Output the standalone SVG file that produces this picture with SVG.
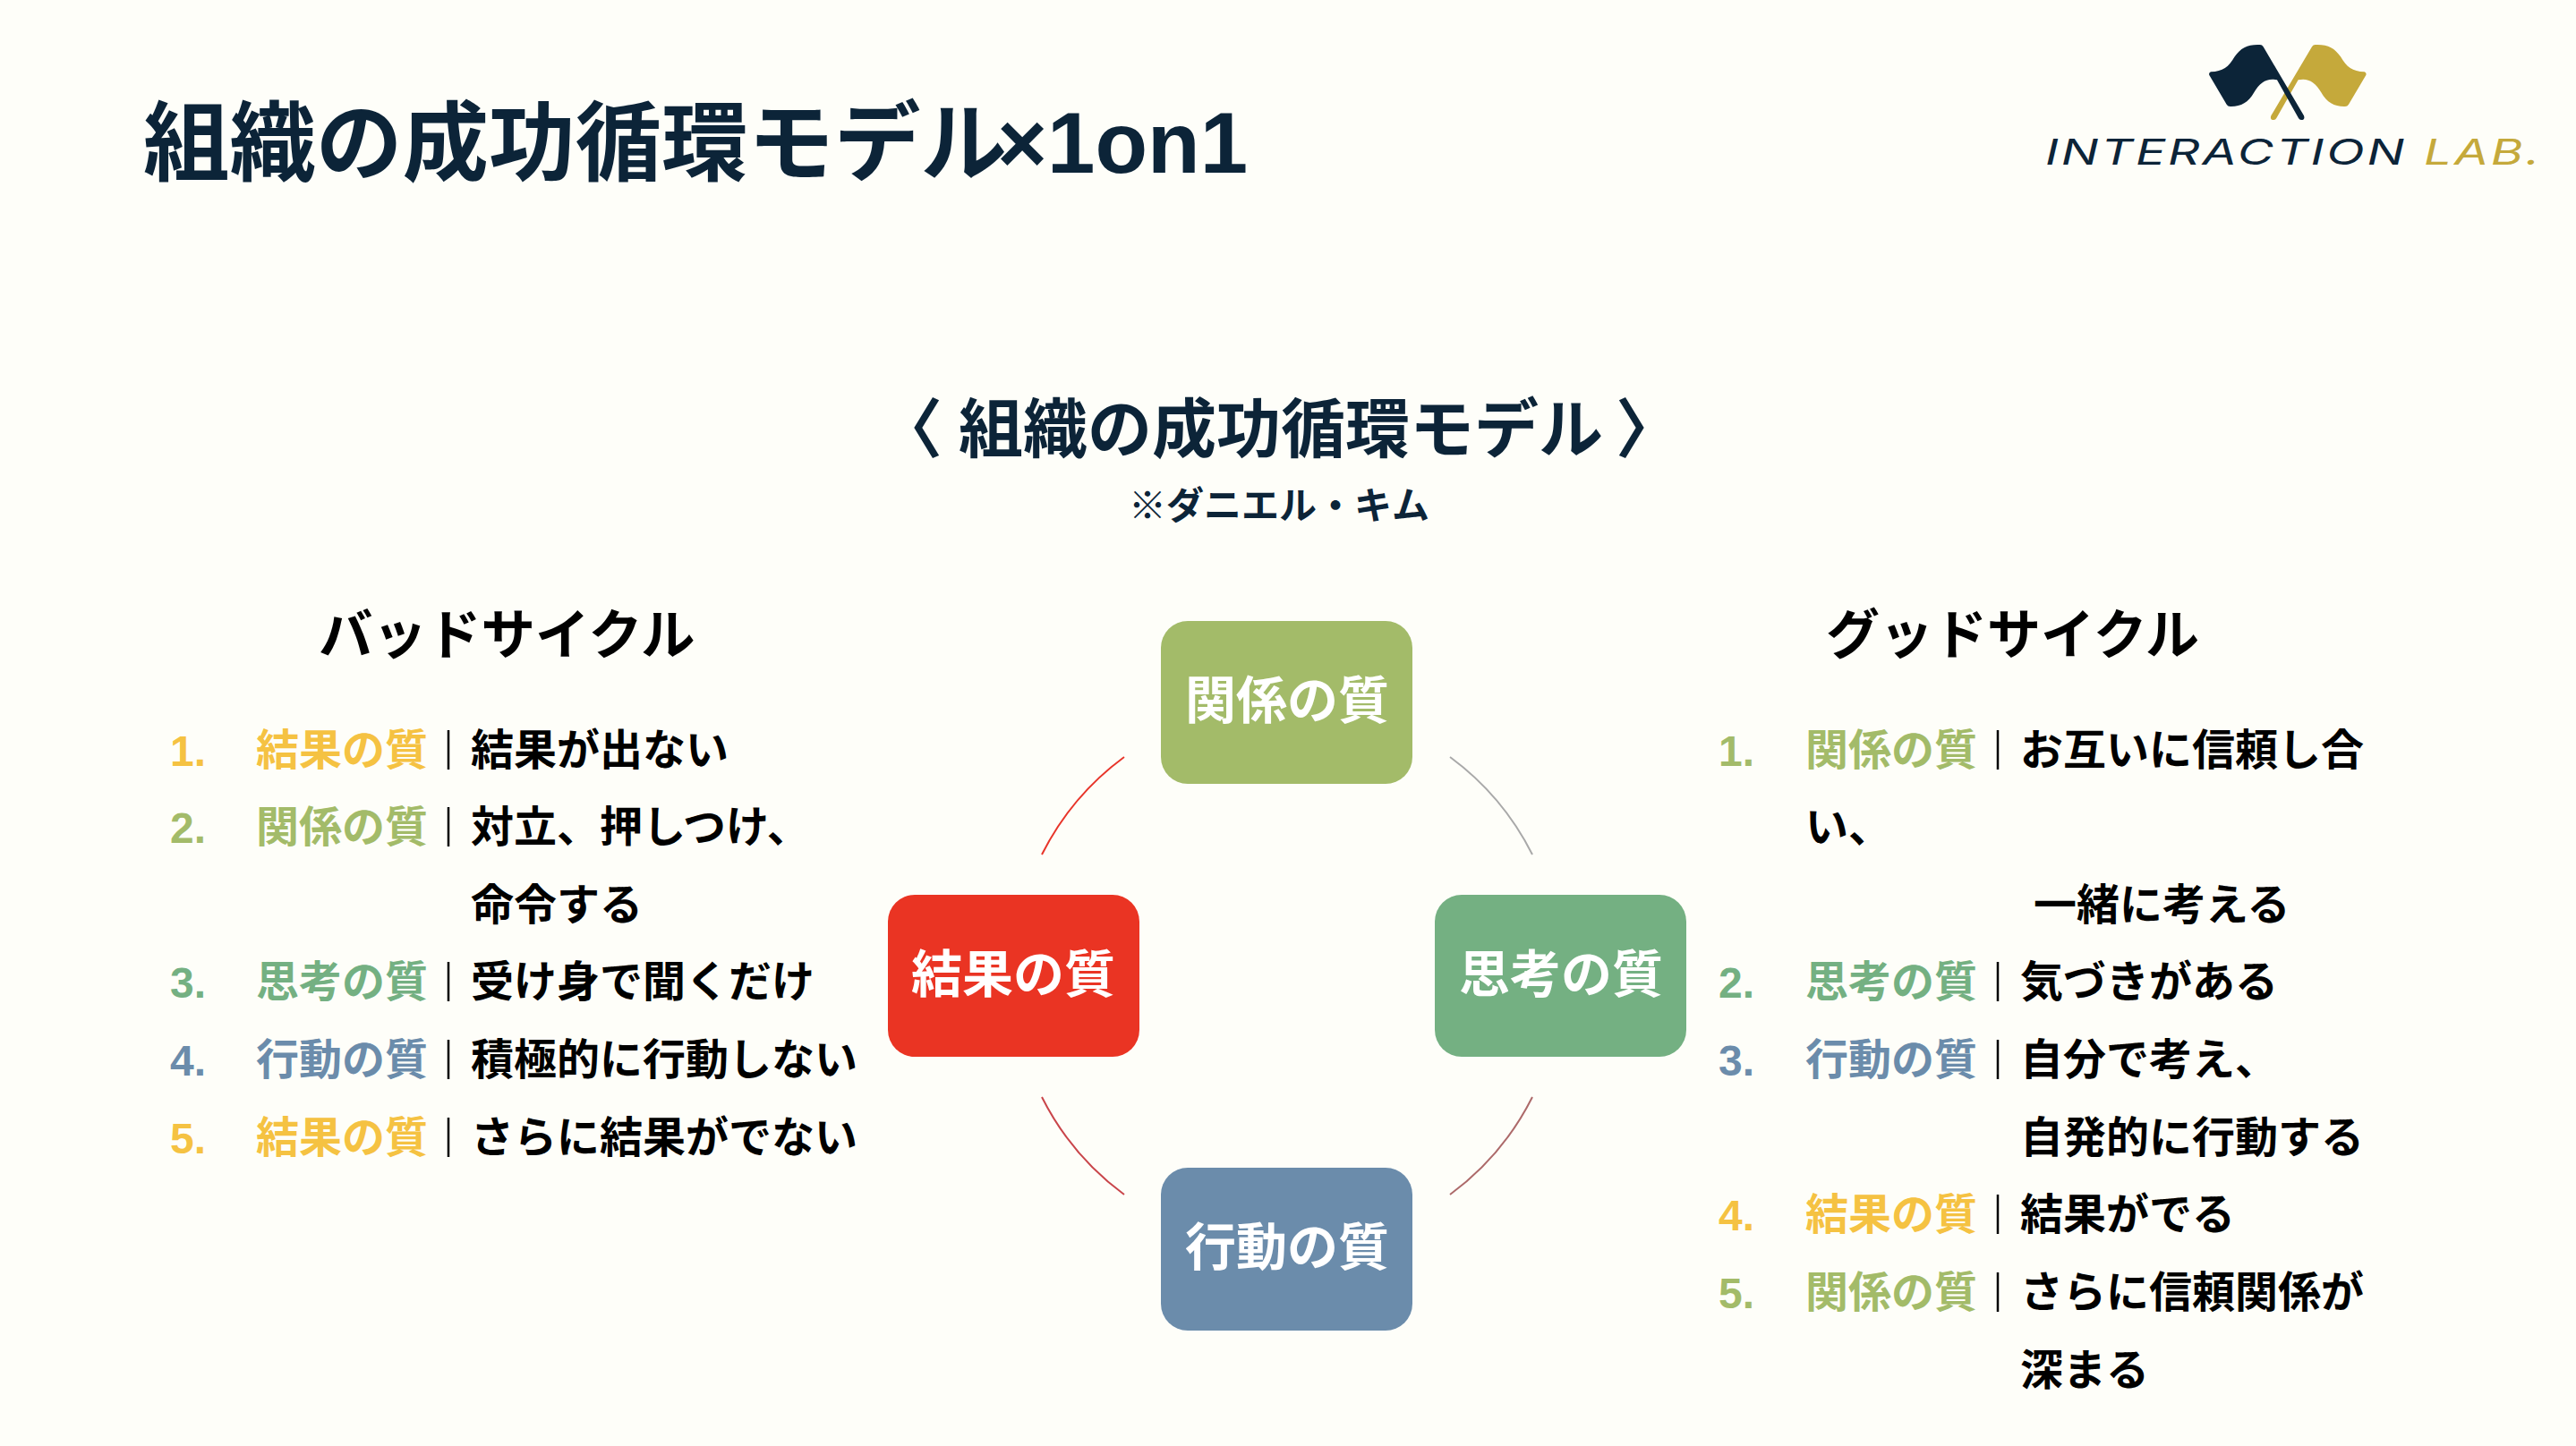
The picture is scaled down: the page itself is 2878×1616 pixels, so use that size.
<svg xmlns="http://www.w3.org/2000/svg" width="2878" height="1616" viewBox="0 0 2878 1616">
<style>
text{font-family:"Noto Sans CJK JP","Noto Sans",sans-serif;font-weight:700}
.h{font-size:60px;fill:#000}
.t{font-size:48px;fill:#000}
.q{font-size:48px}
.n{font-size:48px;font-family:"Liberation Sans",sans-serif;font-weight:700}
.nl{font-size:57px;fill:#fff;text-anchor:middle}
.y{fill:#f5c242}.g{fill:#a3bb69}.e{fill:#74b082}.b{fill:#6b8cab}
.s{stroke:#000;stroke-width:2.5}
.a{fill:none;stroke-width:2}
.lg{font-family:"Inter","Liberation Sans",sans-serif;font-weight:400;font-style:italic;font-size:40px;letter-spacing:2px}
.d{fill:#0c2438}
</style>
<rect width="2878" height="1616" fill="#fefef9"/>
<text class="d" x="160" y="194" font-size="96.5">組織の成功循環モデル</text>
<text class="d" x="1114" y="193" font-size="96" style="font-family:'Liberation Sans',sans-serif">×1on1</text>
<g id="logo" transform="translate(2440,20) scale(.3333)">
<path fill="#c5a93b" d="M605 181C565 180 545 165 525 130C505 100 480 88 440 90Q433 90 429 97L292 328Q287 342 301 342Q307 342 310 336L383 208C415 200 440 215 460 250C480 285 505 298 540 297Q548 297 552 290L610 192Q613 184 605 181Z"/>
<path fill="#0c2438" d="M90 181C130 180 150 165 170 130C190 100 215 88 255 90Q262 90 266 97L402 328Q407 342 393 342Q387 342 384 336L312 208C280 200 255 215 235 250C215 285 190 298 155 297Q147 297 143 290L85 192Q82 184 90 181Z"/>
</g>
<text class="lg" x="2285" y="184" fill="#0c2438" textLength="404" lengthAdjust="spacingAndGlyphs">INTERACTION</text>
<text class="lg" x="2708" y="184" fill="#c5a93b" textLength="132" lengthAdjust="spacingAndGlyphs">LAB.</text>
<text class="d" x="981" y="505" font-size="72">〈</text>
<text class="d" x="1071" y="505" font-size="72">組織の成功循環モデル</text>
<text class="d" x="1805" y="505" font-size="72">〉</text>
<text class="d" x="1429" y="580" font-size="42" text-anchor="middle">※ダニエル・キム</text>
<g id="connectors">
<path class="a" stroke="#a9a9a9" d="M1620 846A306 306 0 0 1 1712 955"/>
<path class="a" stroke="#ad6a6a" d="M1712 1226A306 306 0 0 1 1620 1335"/>
<path class="a" stroke="#c9454a" d="M1256 1335A306 306 0 0 1 1164 1226"/>
<path class="a" stroke="#e8352a" d="M1164 955A306 306 0 0 1 1256 846"/>
</g>
<g id="node-relation"><rect x="1297" y="694" width="281" height="182" rx="30" fill="#a3bb69"/><text class="nl" x="1438" y="803">関係の質</text></g>
<g id="node-thinking"><rect x="1603" y="1000" width="281" height="181" rx="30" fill="#74b082"/><text class="nl" x="1744" y="1109">思考の質</text></g>
<g id="node-action"><rect x="1297" y="1305" width="281" height="182" rx="30" fill="#6b8cab"/><text class="nl" x="1438" y="1414">行動の質</text></g>
<g id="node-result"><rect x="992" y="1000" width="281" height="181" rx="30" fill="#ea3423"/><text class="nl" x="1132" y="1109">結果の質</text></g>
<g id="bad">
<text class="h" x="356" y="731" style="font-size:60.5px">バッドサイクル</text>
<text class="n y" x="190" y="856">1.</text><text class="q y" x="286" y="855">結果の質</text><line class="s" x1="501" y1="816" x2="501" y2="860"/><text class="t" x="526" y="855">結果が出ない</text>
<text class="n g" x="190" y="942">2.</text><text class="q g" x="286" y="941">関係の質</text><line class="s" x1="501" y1="902" x2="501" y2="946"/><text class="t" x="526" y="941">対立、押しつけ、</text>
<text class="t" x="526" y="1028">命令する</text>
<text class="n e" x="190" y="1115">3.</text><text class="q e" x="286" y="1114">思考の質</text><line class="s" x1="501" y1="1075" x2="501" y2="1119"/><text class="t" x="526" y="1114">受け身で聞くだけ</text>
<text class="n b" x="190" y="1202">4.</text><text class="q b" x="286" y="1201">行動の質</text><line class="s" x1="501" y1="1162" x2="501" y2="1206"/><text class="t" x="526" y="1201">積極的に行動しない</text>
<text class="n y" x="190" y="1289">5.</text><text class="q y" x="286" y="1288">結果の質</text><line class="s" x1="501" y1="1249" x2="501" y2="1293"/><text class="t" x="526" y="1288">さらに結果がでない</text>
</g>
<g id="good">
<text class="h" x="2040" y="731">グッドサイクル</text>
<text class="n g" x="1920" y="856">1.</text><text class="q g" x="2017" y="855">関係の質</text><line class="s" x1="2232" y1="816" x2="2232" y2="860"/><text class="t" x="2257" y="855">お互いに信頼し合</text>
<text class="t" x="2017" y="941">い、</text>
<text class="t" x="2272" y="1028">一緒に考える</text>
<text class="n e" x="1920" y="1115">2.</text><text class="q e" x="2017" y="1114">思考の質</text><line class="s" x1="2232" y1="1075" x2="2232" y2="1119"/><text class="t" x="2257" y="1114">気づきがある</text>
<text class="n b" x="1920" y="1202">3.</text><text class="q b" x="2017" y="1201">行動の質</text><line class="s" x1="2232" y1="1162" x2="2232" y2="1206"/><text class="t" x="2257" y="1201">自分で考え、</text>
<text class="t" x="2257" y="1288">自発的に行動する</text>
<text class="n y" x="1920" y="1375">4.</text><text class="q y" x="2017" y="1374">結果の質</text><line class="s" x1="2232" y1="1335" x2="2232" y2="1379"/><text class="t" x="2257" y="1374">結果がでる</text>
<text class="n g" x="1920" y="1462">5.</text><text class="q g" x="2017" y="1461">関係の質</text><line class="s" x1="2232" y1="1422" x2="2232" y2="1466"/><text class="t" x="2257" y="1461">さらに信頼関係が</text>
<text class="t" x="2257" y="1548">深まる</text>
</g>
</svg>
